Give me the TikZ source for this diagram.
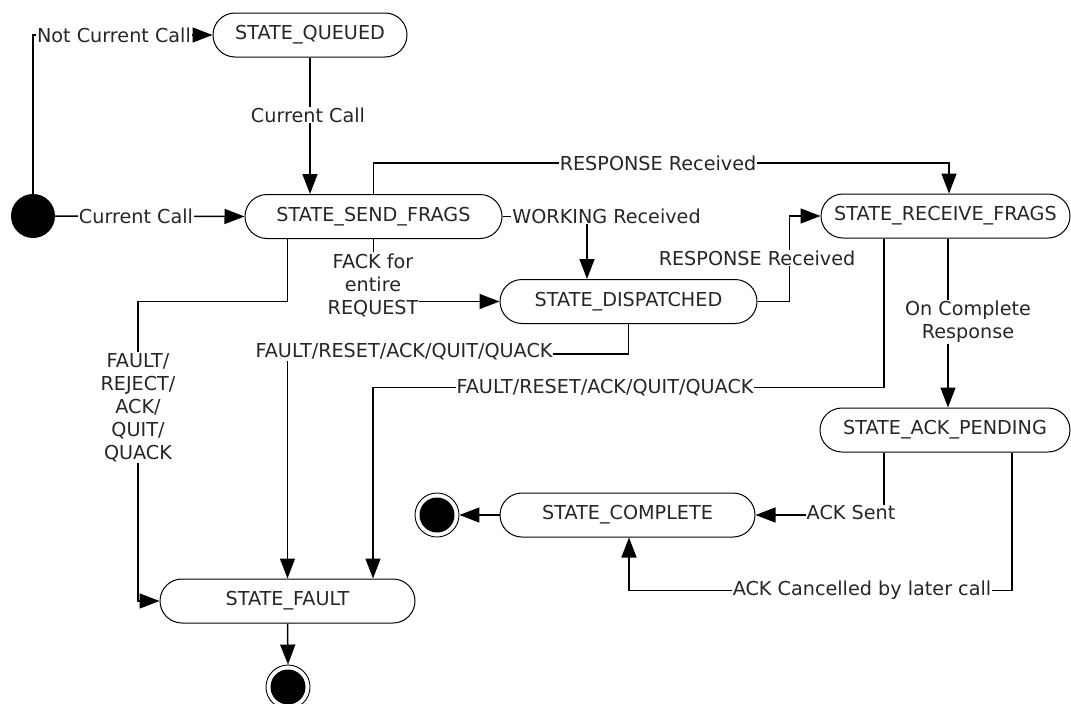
\documentclass[tikz,border=0pt]{standalone}
\usepackage{fontspec}
\setmainfont{DejaVu Sans}
\usetikzlibrary{arrows.meta,calc}
\newcommand\myfs{\fontsize{19.2}{23}\selectfont}
\begin{document}
\begin{tikzpicture}[x=1pt,y=-1pt,
  state/.style={draw, line width=1pt, rounded corners=22pt, minimum height=44pt, inner sep=0pt, font=\myfs, text=black!85},
  initial/.style={circle, fill=black, minimum size=44pt, inner sep=0pt},
  final/.style={circle, draw, line width=0.9pt, minimum size=44pt, inner sep=0pt,
    path picture={\fill[black] (path picture bounding box.center) circle (17.5pt);}},
  arr/.style={line width=1.5pt, -{Triangle[length=20pt,width=15pt]}},
  lbl/.style={fill=white, inner sep=1pt, font=\myfs, align=center, text=black!85}]
\useasboundingbox (0,0) rectangle (1071,704);

% states
\node[state, minimum width=194pt] (queued) at (310,35) {STATE\_QUEUED};
\node[state, minimum width=257pt] (send) at (373.5,216.5) {STATE\_SEND\_FRAGS};
\node[state, minimum width=249pt] (recv) at (945.5,216) {STATE\_RECEIVE\_FRAGS};
\node[state, minimum width=257pt] (disp) at (628.5,301.5) {STATE\_DISPATCHED};
\node[state, minimum width=250pt] (ackp) at (945,430) {STATE\_ACK\_PENDING};
\node[state, minimum width=255pt] (comp) at (627.5,515) {STATE\_COMPLETE};
\node[state, minimum width=255pt] (fault) at (287.5,601) {STATE\_FAULT};
\node[initial] (init) at (33,216) {};
\node[final] (end1) at (437,515) {};
\node[final] (end2) at (288,687) {};

\coordinate (c1) at (138,301.5);

% transitions
\draw[arr] (init.north) |- (queued.west);
\draw[arr] (queued.south) -- (queued.south |- send.north);
\draw[arr] (init.east) -- (send.west);
\draw[arr] (send.north) -- ++(0,-31) -| ($(recv.north)+(3.5,0)$);
\draw[arr] (send.east) -| ($(disp.north)+(-41.5,0)$);
\draw[arr] (send.south) |- (disp.west);
\draw[arr] (disp.east) -- ++(32,0) |- (recv.west);
\draw[arr] ($(send.south)+(-86,0)$) |- (c1) |- (fault.west);
\draw[arr] (disp.south) -- ++(0,30) -| (fault.north);
\draw[arr] ($(recv.south)+(-61.5,0)$) -- ++(0,149) -| ($(fault.north)+(85.5,0)$);
\draw[arr] ($(recv.south)+(2.5,0)$) -- ($(recv.south |- ackp.north)+(2.5,0)$);
\draw[arr] ($(ackp.south)+(-61,0)$) |- (comp.east);
\draw[arr] ($(ackp.south)+(67,0)$) -- ++(0,138) -| ($(comp.south)+(1.5,0)$);
\draw[arr] (comp.west) -- (end1);
\draw[arr] (fault.south) -- (end2.north);

% labels
\node[lbl] (l1) at (114,35) {Not Current Call};
\node[lbl] (l2) at (308,115) {Current Call};
\node[lbl] (l3) at (136,216) {Current Call};
\node[lbl] (l4) at (658,163) {RESPONSE Received};
\node[lbl] (l5) at (606.5,216) {WORKING Received};
\node[lbl] (l6) at (373,285) {FACK for\\entire\\REQUEST};
\node[lbl] (l7) at (757,258) {RESPONSE Received};
\node[lbl] (l8) at (138,407.5) {FAULT/\\REJECT/\\ACK/\\QUIT/\\QUACK};
\node[lbl] (l9) at (404,352) {FAULT/RESET/ACK/QUIT/QUACK};
\node[lbl] (l10) at (605,388) {FAULT/RESET/ACK/QUIT/QUACK};
\node[lbl] (l11) at (968,322) {On Complete\\Response};
\node[lbl] (l12) at (851,513) {ACK Sent};
\node[lbl] (l13) at (862,590) {ACK Cancelled by later call};
\end{tikzpicture}
\end{document}
